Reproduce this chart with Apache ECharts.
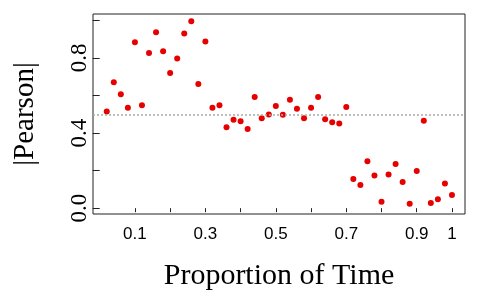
<!DOCTYPE html>
<html>
<head>
<meta charset="utf-8">
<script src="https://cdn.jsdelivr.net/npm/echarts@6/dist/echarts.min.js"></script>
<style>html,body{margin:0;padding:0;background:#fff;}#c{width:480px;height:300px;}</style>
</head>
<body>
<div id="c"></div>
<script>
var xValues = [0.02,0.04,0.06,0.08,0.10,0.12,0.14,0.16,0.18,0.20,
               0.22,0.24,0.26,0.28,0.30,0.32,0.34,0.36,0.38,0.40,
               0.42,0.44,0.46,0.48,0.50,0.52,0.54,0.56,0.58,0.60,
               0.62,0.64,0.66,0.68,0.70,0.72,0.74,0.76,0.78,0.80,
               0.82,0.84,0.86,0.88,0.90,0.92,0.94,0.96,0.98,1.00];
var yValues = [0.515,0.670,0.607,0.535,0.883,0.548,0.826,0.937,0.835,0.720,
               0.797,0.930,0.995,0.661,0.887,0.535,0.548,0.431,0.471,0.463,
               0.422,0.592,0.479,0.499,0.544,0.498,0.578,0.530,0.479,0.535,
               0.592,0.474,0.458,0.451,0.539,0.155,0.124,0.250,0.174,0.034,
               0.180,0.235,0.140,0.024,0.198,0.465,0.027,0.048,0.131,0.070];
var xTicks = [0.1,0.2,0.3,0.4,0.5,0.6,0.7,0.8,0.9,1.0];
var xTickLabels = [0.1,0.3,0.5,0.7,0.9,1.0];
var yTicks = [0,0.2,0.4,0.6,0.8,1.0];
var yTickLabels = [0,0.4,0.8];
var refLine = 0.5;

var points = xValues.map(function(x,i){return [x,yValues[i]];});
var chart = echarts.init(document.getElementById('c'), null, {renderer:'canvas'});
chart.setOption({
  animation:false,
  backgroundColor:'#fff',
  grid:{left:93,right:15,top:14,bottom:86,show:true,borderColor:'#222',borderWidth:1,backgroundColor:'transparent'},
  xAxis:{
    type:'value', min:-0.019, max:1.037,
    name:'Proportion of Time', nameLocation:'middle', nameGap:47,
    nameTextStyle:{fontFamily:'Liberation Serif', fontSize:30, color:'#000', lineHeight:30},
    axisLine:{show:false},
    splitLine:{show:false},
    axisTick:{show:true, length:4, customValues:xTicks, lineStyle:{color:'#222'}},
    axisLabel:{customValues:xTickLabels, margin:12, fontFamily:'Liberation Sans', fontSize:17, color:'#000', lineHeight:17,
      formatter:function(v){return String(Math.round(v*10)/10);}}
  },
  yAxis:{
    type:'value', min:-0.031, max:1.034,
    name:'|Pearson|', nameLocation:'middle', nameGap:53,
    nameTextStyle:{fontFamily:'Liberation Serif', fontSize:29, color:'#000', lineHeight:29},
    axisLine:{show:false},
    splitLine:{show:false},
    axisTick:{show:true, length:7, customValues:yTicks, lineStyle:{color:'#222'}},
    axisLabel:{customValues:yTickLabels, rotate:90, margin:2, fontFamily:'Liberation Serif', fontSize:23, color:'#000', lineHeight:23,
      formatter:function(v){return (Math.round(v*10)/10).toFixed(1);}}
  },
  series:[{
    type:'scatter',
    data:points,
    symbolSize:6,
    itemStyle:{color:'#e60000', opacity:1},
    markLine:{
      silent:true, symbol:'none',
      label:{show:false},
      lineStyle:{color:'#aaaaaa', type:[2,2], width:1.5, opacity:1},
      data:[{yAxis:refLine}]
    }
  }]
});
</script>
</body>
</html>
